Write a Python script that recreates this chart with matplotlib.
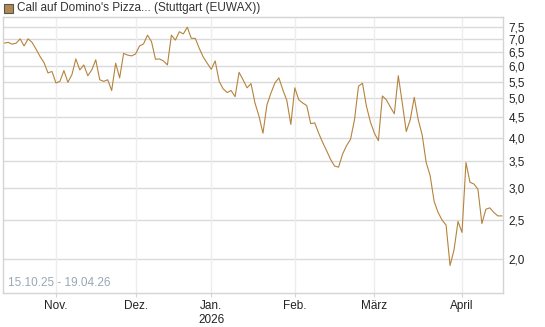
import matplotlib
matplotlib.use("Agg")
import matplotlib.pyplot as plt
from matplotlib.ticker import FixedLocator, NullLocator
import pandas as pd

LINE = "#b5833d"
GRID_H, GRID_V, FRAME = "#dadada", "#ededed", "#d4d4d4"
INK = "#222222"

plt.rcParams.update({"font.family": ["Liberation Sans", "DejaVu Sans"], "font.size": 8})

# trading days (Stuttgart), 15.10.25 .. 17.04.26
holidays = ["2025-12-24", "2025-12-25", "2025-12-26", "2025-12-31",
            "2026-01-01", "2026-04-03", "2026-04-06"]
dates = pd.bdate_range("2025-10-15", "2026-04-17", freq="C", holidays=holidays)

prices = [
    6.85, 6.88, 6.81, 6.85, 7.02, 6.74, 7.02, 6.88, 6.62, 6.35,
    6.13, 5.78, 5.83, 5.46, 5.51, 5.86, 5.48, 5.72, 6.26, 5.88,
    6.05, 5.69, 5.88, 6.23, 5.56, 5.51, 5.56, 5.23, 6.11, 5.62,
    6.46, 6.40, 6.37, 6.44, 6.74, 6.82, 7.17, 6.91, 6.25, 6.26,
    6.19, 6.05, 7.17, 6.97, 7.31, 7.22, 7.50, 7.04, 7.04, 6.65,
    6.33, 6.11, 5.90, 6.19, 5.51, 5.28, 5.17, 5.23, 5.05, 5.80,
    5.56, 5.31, 5.44, 4.87, 4.52, 4.10, 4.82, 5.15, 5.46, 5.62,
    5.25, 4.94, 4.31, 5.31, 4.96, 4.87, 4.80, 4.33, 4.35, 4.10,
    3.89, 3.71, 3.53, 3.40, 3.38, 3.64, 3.82, 3.96, 4.43, 5.36,
    5.45, 4.78, 4.37, 4.10, 3.93, 5.07, 4.96, 4.76, 4.58, 5.69,
    4.87, 4.14, 4.43, 5.03, 4.43, 4.06, 3.47, 3.22, 2.78, 2.61,
    2.50, 2.43, 1.93, 2.11, 2.48, 2.33, 3.47, 3.10, 3.07, 2.98,
    2.45, 2.66, 2.68, 2.61, 2.56, 2.56,
]
yticks = [2.0, 2.5, 3.0, 3.5, 4.0, 4.5, 5.0, 5.5, 6.0, 6.5, 7.0, 7.5]
month_names = {11: "Nov.", 12: "Dez.", 1: "Jan.\n2026", 2: "Feb.", 3: "März", 4: "April"}

s = pd.Series(prices, index=dates)
idx = list(range(len(s)))
first = s.groupby([s.index.year, s.index.month]).head(1).index
mpos = [dates.get_loc(d) for d in first if d.month in month_names and d != dates[0]]
mlab = [month_names[dates[p].month] for p in mpos]

fig = plt.figure(figsize=(5.45, 3.27), dpi=100)
ax = fig.add_axes([3 / 545, 1 - 293 / 327, 500 / 545, 276 / 327])
ax.plot(idx, s.values, color=LINE, lw=0.8)

ax.set_yscale("log")
ax.set_ylim(1.65, 7.95)
ax.set_xlim(-0.3, len(s) - 0.7)
ax.yaxis.set_major_locator(FixedLocator(yticks))
ax.yaxis.set_minor_locator(NullLocator())
ax.set_yticks(yticks)
ax.set_yticklabels([f"{v:.1f}".replace(".", ",") for v in yticks])
ax.yaxis.tick_right()
ax.set_xticks(mpos)
ax.set_xticklabels(mlab)
ax.tick_params(axis="y", length=0, pad=4, labelsize=8.5, colors=INK)
ax.tick_params(axis="x", length=3, color=FRAME, pad=2, labelsize=8.5, colors=INK)

for y in yticks:
    ax.axhline(y, color=GRID_H, lw=1, zorder=0)
for p in mpos:
    ax.axvline(p, color=GRID_V, lw=1, zorder=0)
for sp in ax.spines.values():
    sp.set_color(FRAME)
    sp.set_linewidth(1)

ax.text(0.01, 0.015, "15.10.25 - 19.04.26", transform=ax.transAxes,
        fontsize=8.5, color="#9aa6b6", ha="left", va="bottom")

fig.patches.append(plt.Rectangle((4 / 545, 1 - 13 / 327), 9 / 545, 9 / 327,
                                 transform=fig.transFigure, facecolor="#b08a4f",
                                 edgecolor="#555555", lw=0.8))
fig.text(17 / 545, 1 - 8.5 / 327, "Call auf Domino's Pizza... (Stuttgart (EUWAX))",
         fontsize=8.5, color="#333333", ha="left", va="center")

fig.savefig("out.png", dpi=100)
